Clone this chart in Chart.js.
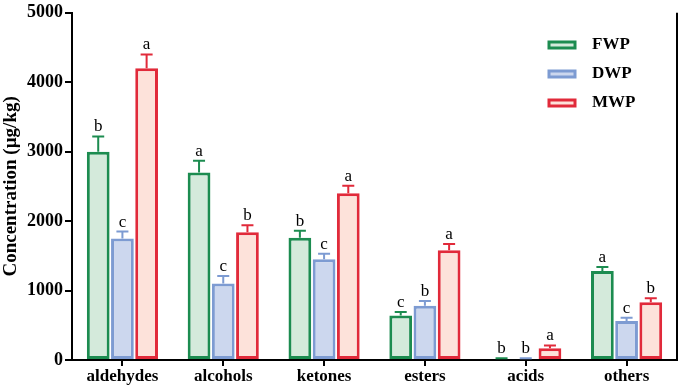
<!DOCTYPE html>
<html>
<head>
<meta charset="utf-8">
<script src="https://cdn.jsdelivr.net/npm/chart.js@4"></script>
<style>
  html, body { margin: 0; padding: 0; background: #fff; }
  #wrap { width: 679px; height: 391px; }
</style>
</head>
<body>
<div id="wrap"><canvas id="chart"></canvas></div>
<script>
const categories = ['aldehydes', 'alcohols', 'ketones', 'esters', 'acids', 'others'];
const yTicks = [0, 1000, 2000, 3000, 4000, 5000];

const fwpValues = [3000, 2700, 1760, 640, 15, 1280];
const fwpErrors = [220, 170, 100, 50, 10, 60];
const fwpLetters = ['b', 'a', 'b', 'c', 'b', 'a'];

const dwpValues = [1750, 1100, 1450, 780, 15, 560];
const dwpErrors = [100, 110, 80, 70, 10, 50];
const dwpLetters = ['c', 'c', 'c', 'b', 'b', 'c'];

const mwpValues = [4200, 1840, 2400, 1580, 170, 830];
const mwpErrors = [200, 100, 110, 90, 40, 60];
const mwpLetters = ['a', 'b', 'a', 'a', 'a', 'b'];

const serif = 'Liberation Serif, Times New Roman, serif';
Chart.defaults.font.family = serif;

// error bars + significance letters
const errorBars = {
    id: 'errorBars',
    afterDatasetsDraw(chart) {
        const ctx = chart.ctx;
        const y = chart.scales.y;
        chart.data.datasets.forEach((ds, i) => {
            const meta = chart.getDatasetMeta(i);
            meta.data.forEach((bar, j) => {
                const top = y.getPixelForValue(ds.data[j] + ds.errors[j]);
                ctx.save();
                ctx.strokeStyle = ds.borderColor;
                ctx.lineWidth = 2;
                ctx.beginPath();
                ctx.moveTo(bar.x, bar.y);
                ctx.lineTo(bar.x, top);
                ctx.moveTo(bar.x - 6, top);
                ctx.lineTo(bar.x + 6, top);
                ctx.stroke();
                ctx.fillStyle = '#000';
                ctx.font = '17px ' + serif;
                ctx.textAlign = 'center';
                ctx.textBaseline = 'bottom';
                ctx.fillText(ds.letters[j], bar.x, top - 1);
                ctx.restore();
            });
        });
    }
};

// legend at upper right, plus right frame line
const sideLegend = {
    id: 'sideLegend',
    afterDraw(chart) {
        const ctx = chart.ctx;
        const area = chart.chartArea;
        ctx.save();
        ctx.strokeStyle = '#000';
        ctx.lineWidth = 2;
        ctx.beginPath();
        ctx.moveTo(area.right, area.top);
        ctx.lineTo(area.right, area.bottom);
        ctx.stroke();
        chart.data.datasets.forEach((ds, i) => {
            const cy = 45 + i * 29;
            ctx.fillStyle = ds.backgroundColor;
            ctx.strokeStyle = ds.borderColor;
            ctx.lineWidth = 3;
            ctx.fillRect(549, cy - 3, 26, 6);
            ctx.strokeRect(549, cy - 3, 26, 6);
            ctx.fillStyle = '#000';
            ctx.font = 'bold 17px ' + serif;
            ctx.textAlign = 'left';
            ctx.textBaseline = 'middle';
            ctx.fillText(ds.label, 592, cy);
        });
        ctx.restore();
    }
};

new Chart(document.getElementById('chart').getContext('2d'), {
    type: 'bar',
    data: {
        labels: categories,
        datasets: [
            {
                label: 'FWP',
                data: fwpValues,
                errors: fwpErrors,
                letters: fwpLetters,
                backgroundColor: '#d4eadb',
                borderColor: '#1c8c50',
                borderWidth: 3,
                borderSkipped: false
            },
            {
                label: 'DWP',
                data: dwpValues,
                errors: dwpErrors,
                letters: dwpLetters,
                backgroundColor: '#ccd7ee',
                borderColor: '#7d9bd2',
                borderWidth: 3,
                borderSkipped: false
            },
            {
                label: 'MWP',
                data: mwpValues,
                errors: mwpErrors,
                letters: mwpLetters,
                backgroundColor: '#fde2da',
                borderColor: '#e12a3a',
                borderWidth: 3,
                borderSkipped: false
            }
        ]
    },
    options: {
        responsive: true,
        maintainAspectRatio: false,
        animation: false,
        layout: { padding: { top: 8, right: 2, left: 0, bottom: 0 } },
        categoryPercentage: 0.72,
        barPercentage: 0.94,
        scales: {
            x: {
                offset: true,
                grid: { display: true, offset: false, drawOnChartArea: false, tickLength: 6, color: '#000', lineWidth: 2 },
                border: { color: '#000', width: 2 },
                ticks: { color: '#000', font: { family: serif, size: 17, weight: 'bold' }, padding: 0 },
                afterFit: s => { s.height = 31; }
            },
            y: {
                min: 0,
                max: 5000,
                afterBuildTicks: s => { s.ticks = yTicks.map(v => ({ value: v })); },
                grid: { display: true, drawOnChartArea: false, tickLength: 7, color: '#000', lineWidth: 2 },
                border: { color: '#000', width: 2 },
                ticks: { color: '#000', font: { family: serif, size: 18, weight: 'bold' }, padding: 2, callback: v => String(v) },
                title: { display: true, text: 'Concentration (µg/kg)', color: '#000', font: { family: serif, size: 19, weight: 'bold' }, padding: { top: 0, bottom: 0 } },
                afterFit: s => { s.width = 72; }
            }
        },
        plugins: {
            legend: { display: false },
            tooltip: { enabled: false }
        }
    },
    plugins: [errorBars, sideLegend]
});
</script>
</body>
</html>
